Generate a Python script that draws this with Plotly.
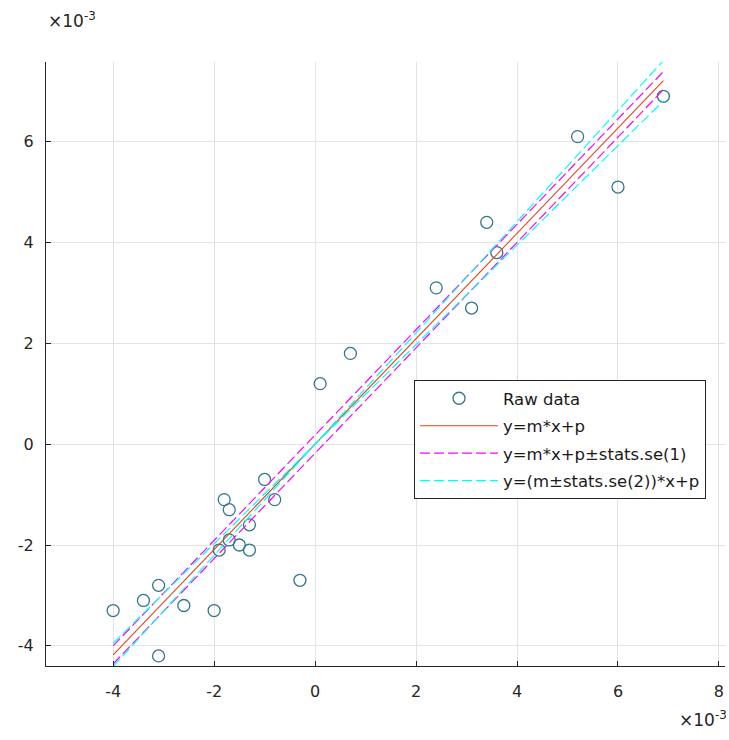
import plotly.graph_objects as go

# Data values (in units of 1e-3)
x_raw = [-4.0, -3.4, -3.1, -3.1, -2.6, -2.0, -1.9, -1.8, -1.7, -1.7, -1.5, -1.3, -1.3,
         -1.0, -0.8, -0.3, 0.1, 0.7, 2.4, 3.1, 3.4, 3.6, 5.2, 6.0, 6.9]
y_raw = [-3.3, -3.1, -2.8, -4.2, -3.2, -3.3, -2.1, -1.1, -1.3, -1.9, -2.0, -1.6, -2.1,
         -0.7, -1.1, -2.7, 1.2, 1.8, 3.1, 2.7, 4.4, 3.8, 6.1, 5.1, 6.9]

# Fit parameters (units 1e-3 for p and se(1))
m = 1.045
p = 0.0
se = [0.18, 0.058]

x_ticks = [-4, -2, 0, 2, 4, 6, 8]
y_ticks = [-4, -2, 0, 2, 4, 6]

legend_labels = ["Raw data", "y=m*x+p", "y=m*x+p\u00b1stats.se(1)", "y=(m\u00b1stats.se(2))*x+p"]

xl = [min(x_raw), max(x_raw)]

FONT = "DejaVu Sans, Liberation Sans, Arial, sans-serif"
AX = "#262626"
DASH = "10px,4px"

fig = go.Figure()
fig.add_trace(go.Scatter(
    x=x_raw, y=y_raw, mode="markers", name=legend_labels[0], legendgroup="g0",
    marker=dict(symbol="circle-open", size=12, color="#33778c", line=dict(width=1.3)),
))
fig.add_trace(go.Scatter(
    x=xl, y=[m * v + p for v in xl], mode="lines", name=legend_labels[1], legendgroup="g1",
    line=dict(color="#E0461A", width=1.1),
))
for k, s in enumerate([1, -1]):
    fig.add_trace(go.Scatter(
        x=xl, y=[m * v + p + s * se[0] for v in xl], mode="lines", name=legend_labels[2],
        legendgroup="g2", showlegend=(k == 0),
        line=dict(color="#FF00FF", width=1.2, dash=DASH),
    ))
for k, s in enumerate([1, -1]):
    fig.add_trace(go.Scatter(
        x=xl, y=[(m + s * se[1]) * v + p for v in xl], mode="lines", name=legend_labels[3],
        legendgroup="g3", showlegend=(k == 0),
        line=dict(color="#00FFFF", width=1.2, dash=DASH),
    ))

axis_common = dict(
    showgrid=True, gridcolor="#E3E3E3", gridwidth=1, zeroline=False,
    showline=True, linecolor=AX, linewidth=1.2, mirror=False,
    ticks="inside", ticklen=5, tickcolor=AX, tickwidth=1,
    tickfont=dict(family=FONT, size=16, color=AX),
)

fig.update_layout(
    width=729, height=740,
    margin=dict(l=46, r=4, t=62, b=74),
    paper_bgcolor="white", plot_bgcolor="white",
    font=dict(family=FONT, size=16, color=AX),
    xaxis=dict(range=[-5.33, 8.12], tickvals=x_ticks, ticktext=[str(v) for v in x_ticks],
               ticklabelstandoff=11, **axis_common),
    yaxis=dict(range=[-4.40, 7.58], tickvals=y_ticks, ticktext=[str(v) for v in y_ticks],
               ticklabelstandoff=8, **axis_common),
    legend=dict(
        x=0.542, y=0.4735, xanchor="left", yanchor="top",
        bgcolor="white", bordercolor=AX, borderwidth=1,
        font=dict(family=FONT, size=16.5, color="#1a1a1a"),
        itemwidth=78, tracegroupgap=3,
    ),
    annotations=[
        dict(xref="paper", yref="paper", x=0, y=1, xanchor="left", yanchor="bottom",
             yshift=29, xshift=0, showarrow=False,
             text="\u00d710<sup>-3</sup>", font=dict(family=FONT, size=17, color=AX)),
        dict(xref="paper", yref="paper", x=1, y=0, xanchor="right", yanchor="top",
             yshift=-40, xshift=4, showarrow=False,
             text="\u00d710<sup>-3</sup>", font=dict(family=FONT, size=17, color=AX)),
    ],
)

fig.write_html("out.html")
